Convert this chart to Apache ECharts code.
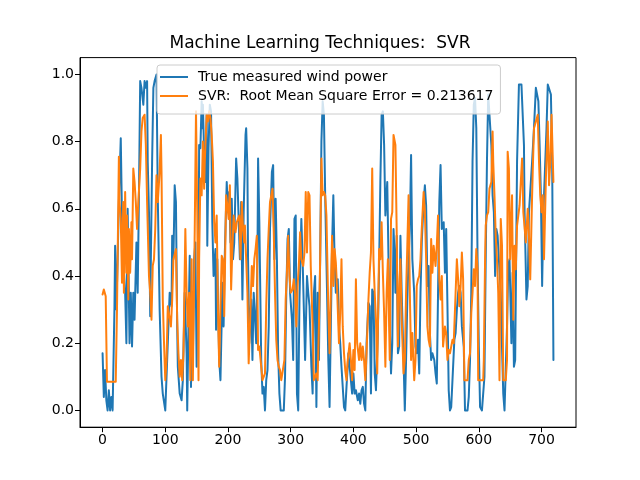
<!DOCTYPE html>
<html>
<head>
<meta charset="utf-8">
<script src="https://cdn.jsdelivr.net/npm/echarts@6/dist/echarts.min.js"></script>
<style>
html,body{margin:0;padding:0;background:#fff;}
#chart{width:640px;height:480px;}
</style>
</head>
<body>
<div id="chart"></div>
<script>
const titleText = 'Machine Learning Techniques:  SVR';
const trueName = 'True measured wind power';
const svrName = 'SVR:  Root Mean Square Error = 0.213617';

const trueIdx = [0,2,4,6,8,10,12,14,16,19,20,22,24,26,29,31,33,36,38,40,43,45,47,49,51,54,56,58,60,62,65,67,69,71,72,74,76,77,79,81,83,86,88,91,94,96,100,103,105,107,110,111,113,115,117,119,120,123,126,128,131,134,135,137,139,141,142,144,146,148,150,151,153,154,156,158,159,160,162,164,166,167,169,171,173,175,177,180,181,183,184,186,188,190,191,193,195,198,200,202,204,206,208,210,213,215,217,219,221,223,225,228,229,231,232,234,237,239,241,243,245,247,248,250,253,255,257,259,261,263,265,267,270,272,274,276,278,280,282,284,287,289,291,293,295,297,299,302,304,306,308,310,312,314,317,319,321,323,326,328,330,333,335,337,339,341,343,345,347,349,351,353,355,358,360,362,364,366,368,370,372,375,377,379,381,383,385,387,389,392,394,396,398,400,402,404,407,409,411,413,415,417,419,421,424,426,428,430,432,434,436,439,441,443,445,447,449,451,454,456,458,460,462,464,466,467,469,471,473,475,477,480,482,484,486,488,490,492,494,497,499,501,503,505,507,509,512,514,516,518,520,522,524,526,529,531,533,535,537,539,541,544,546,548,550,552,554,556,558,561,563,565,567,569,571,573,576,578,580,582,584,586,588,590,592,594,596,598,600,602,605,607,609,611,613,615,617,620,622,624,626,628,630,632,635,637,639,641,643,645,647,649,652,654,656,658,661,664,668,672,673,676,678,680,683,685,688,691,693,695,697,699,701,703,705,708,710,713,715,717,718,719];
const trueVal = [0.17,0.04,0.12,0.03,0.00,0.06,0.00,0.04,0.00,0.31,0.49,0.30,0.45,0.62,0.81,0.57,0.45,0.35,0.20,0.60,0.20,0.35,0.19,0.35,0.27,0.50,0.35,0.64,0.98,0.96,0.91,0.98,0.96,0.98,0.74,0.59,0.28,0.45,0.74,0.96,0.98,1.00,0.64,0.30,0.10,0.05,0.00,0.15,0.25,0.35,0.31,0.52,0.45,0.67,0.62,0.25,0.13,0.05,0.03,0.09,0.35,0.17,0.00,0.25,0.46,0.07,0.21,0.15,0.45,0.50,0.13,0.30,0.35,0.79,0.78,0.92,0.84,0.91,0.76,0.68,0.88,0.49,0.78,0.91,0.89,0.56,0.40,0.48,0.24,0.45,0.33,0.15,0.09,0.27,0.38,0.25,0.47,0.68,0.59,0.65,0.50,0.63,0.45,0.50,0.75,0.69,0.57,0.45,0.62,0.33,0.59,0.82,0.84,0.72,0.45,0.20,0.33,0.15,0.35,0.28,0.20,0.45,0.75,0.56,0.15,0.05,0.07,0.00,0.09,0.12,0.25,0.54,0.71,0.73,0.45,0.63,0.45,0.17,0.05,0.00,0.00,0.00,0.10,0.35,0.51,0.54,0.35,0.27,0.15,0.57,0.58,0.05,0.00,0.33,0.57,0.45,0.30,0.15,0.40,0.35,0.31,0.13,0.05,0.35,0.40,0.01,0.35,0.15,0.45,0.80,0.92,0.88,0.64,0.35,0.15,0.01,0.25,0.49,0.64,0.45,0.35,0.39,0.25,0.20,0.13,0.13,0.01,0.00,0.07,0.17,0.13,0.13,0.05,0.11,0.05,0.06,0.03,0.05,0.02,0.06,0.07,0.02,0.00,0.20,0.32,0.31,0.05,0.36,0.35,0.11,0.06,0.23,0.43,0.68,0.88,0.89,0.79,0.58,0.68,0.45,0.25,0.11,0.20,0.54,0.45,0.35,0.52,0.17,0.19,0.52,0.35,0.15,0.00,0.15,0.33,0.45,0.54,0.76,0.45,0.35,0.19,0.17,0.21,0.11,0.35,0.50,0.62,0.67,0.61,0.37,0.43,0.23,0.15,0.17,0.15,0.11,0.08,0.35,0.62,0.73,0.54,0.56,0.41,0.54,0.31,0.06,0.00,0.01,0.01,0.21,0.23,0.30,0.35,0.37,0.35,0.25,0.19,0.00,0.00,0.00,0.04,0.15,0.35,0.74,0.91,0.93,0.84,0.45,0.19,0.01,0.00,0.00,0.10,0.45,0.74,0.94,0.94,0.79,0.64,0.59,0.40,0.54,0.52,0.45,0.35,0.19,0.05,0.00,0.00,0.25,0.43,0.45,0.20,0.41,0.13,0.15,0.74,0.97,0.97,0.79,0.59,0.33,0.37,0.59,0.68,0.74,0.84,0.96,0.94,0.92,0.79,0.64,0.37,0.59,0.69,0.84,0.97,0.97,0.94,0.74,0.45,0.15];

const svrIdx = [0,2,5,7,14,21,23,26,27,29,31,33,34,36,38,39,41,42,44,46,47,49,51,53,55,57,60,62,64,67,69,71,74,76,78,80,82,84,86,88,91,93,94,96,98,100,102,104,107,109,111,113,117,119,121,123,125,127,129,132,134,136,138,140,142,144,147,149,151,153,154,156,158,160,162,163,166,168,170,172,174,176,178,180,182,184,186,188,190,192,194,197,199,201,203,205,207,209,212,214,216,218,220,222,224,226,227,229,231,233,235,238,240,242,244,246,248,250,252,255,257,259,261,263,265,267,271,273,275,277,279,281,283,285,288,290,292,294,296,298,300,303,305,307,309,311,313,315,317,320,322,324,326,328,330,332,335,337,339,341,343,345,347,349,351,353,355,357,360,362,364,366,368,370,372,374,377,379,381,383,385,387,389,391,394,396,398,400,402,404,406,409,411,413,415,417,419,421,424,426,428,430,432,434,436,438,441,443,445,447,449,451,453,455,458,460,462,464,467,469,471,473,475,477,480,482,484,486,488,490,492,494,497,499,501,503,505,507,509,512,514,516,518,520,522,524,526,528,531,533,535,537,539,541,543,546,548,550,552,554,556,558,560,563,565,567,569,571,573,575,577,580,582,584,586,588,590,592,594,596,598,599,603,607,608,610,611,613,615,617,620,622,623,625,627,629,631,633,635,637,639,641,643,645,646,648,650,653,655,657,659,661,665,669,671,675,678,680,682,685,686,688,691,694,696,698,700,702,704,707,710,712,714,716,719];
const svrVal = [0.345,0.36,0.34,0.085,0.085,0.085,0.30,0.755,0.62,0.57,0.38,0.62,0.35,0.65,0.41,0.58,0.33,0.54,0.41,0.56,0.45,0.72,0.68,0.62,0.54,0.62,0.72,0.83,0.87,0.88,0.79,0.62,0.40,0.35,0.27,0.43,0.45,0.54,0.70,0.62,0.71,0.82,0.71,0.33,0.20,0.09,0.15,0.31,0.31,0.25,0.33,0.45,0.48,0.27,0.17,0.10,0.15,0.09,0.17,0.54,0.35,0.25,0.35,0.09,0.45,0.09,0.54,0.89,0.59,0.09,0.45,0.69,0.64,0.80,0.66,0.74,0.88,0.86,0.89,0.87,0.82,0.74,0.56,0.50,0.58,0.30,0.13,0.31,0.46,0.45,0.28,0.64,0.61,0.57,0.67,0.36,0.48,0.58,0.53,0.56,0.57,0.58,0.45,0.62,0.54,0.50,0.55,0.45,0.35,0.14,0.25,0.43,0.37,0.45,0.48,0.52,0.18,0.19,0.15,0.09,0.09,0.11,0.31,0.45,0.54,0.62,0.66,0.53,0.35,0.21,0.15,0.13,0.12,0.09,0.09,0.15,0.33,0.41,0.52,0.40,0.35,0.36,0.39,0.35,0.25,0.37,0.43,0.53,0.45,0.43,0.47,0.65,0.47,0.65,0.64,0.43,0.25,0.09,0.09,0.11,0.09,0.25,0.45,0.75,0.64,0.65,0.64,0.58,0.30,0.17,0.35,0.52,0.37,0.48,0.44,0.36,0.20,0.29,0.45,0.25,0.17,0.12,0.09,0.15,0.20,0.15,0.09,0.18,0.12,0.39,0.20,0.15,0.20,0.15,0.19,0.15,0.09,0.17,0.33,0.41,0.47,0.72,0.45,0.35,0.27,0.11,0.48,0.45,0.56,0.41,0.29,0.13,0.35,0.45,0.15,0.57,0.59,0.82,0.79,0.54,0.19,0.35,0.45,0.27,0.11,0.15,0.35,0.49,0.64,0.35,0.15,0.23,0.09,0.15,0.37,0.39,0.40,0.45,0.54,0.65,0.59,0.45,0.25,0.21,0.19,0.51,0.41,0.49,0.43,0.49,0.58,0.39,0.33,0.40,0.19,0.25,0.23,0.15,0.18,0.17,0.19,0.21,0.20,0.35,0.45,0.39,0.31,0.37,0.47,0.39,0.09,0.09,0.09,0.15,0.17,0.29,0.35,0.42,0.37,0.48,0.42,0.09,0.09,0.09,0.15,0.45,0.55,0.58,0.59,0.66,0.68,0.83,0.74,0.64,0.52,0.45,0.35,0.09,0.57,0.49,0.09,0.09,0.09,0.15,0.77,0.72,0.45,0.64,0.27,0.49,0.42,0.55,0.61,0.75,0.59,0.50,0.60,0.52,0.39,0.64,0.71,0.84,0.84,0.88,0.74,0.64,0.59,0.64,0.45,0.69,0.86,0.67,0.74,0.88,0.68];

const xTicks = [0,100,200,300,400,500,600,700];
const yTicks = [0.0,0.2,0.4,0.6,0.8,1.0];
const xRange = [-36, 755];
const yRange = [-0.05, 1.05];

const pairs = (xs, ys) => xs.map((x, k) => [x, ys[k]]);
const font = 'DejaVu Sans';

const chart = echarts.init(document.getElementById('chart'), null, {renderer: 'canvas'});
chart.setOption({
  animation: false,
  backgroundColor: '#ffffff',
  title: {
    text: titleText,
    left: 'center',
    top: 35,
    padding: 0,
    textStyle: {fontFamily: font, fontSize: 17, fontWeight: 'normal', color: '#000'}
  },
  legend: {
    orient: 'vertical',
    left: 157,
    top: 65,
    padding: [5, 7, 11, 3],
    itemGap: 5,
    itemWidth: 28,
    itemHeight: 2,
    icon: 'rect',
    borderColor: '#cccccc',
    borderWidth: 1,
    borderRadius: 3,
    backgroundColor: 'rgba(255,255,255,0.8)',
    textStyle: {fontFamily: font, fontSize: 14, color: '#000', padding: [0, 0, 0, 5]},
    data: [trueName, svrName]
  },
  grid: {
    left: 80, right: 64, top: 57.6, bottom: 52.8,
    show: true, borderColor: '#000', borderWidth: 1, backgroundColor: 'transparent'
  },
  xAxis: {
    type: 'value', min: xRange[0], max: xRange[1],
    splitLine: {show: false},
    axisLine: {show: true, onZero: false, lineStyle: {color: '#000', width: 1}},
    axisTick: {show: true, inside: false, length: 5, lineStyle: {color: '#000', width: 1}, customValues: xTicks},
    axisLabel: {color: '#000', fontFamily: font, fontSize: 14, margin: 6, customValues: xTicks}
  },
  yAxis: {
    type: 'value', min: yRange[0], max: yRange[1],
    splitLine: {show: false},
    axisLine: {show: true, onZero: false, lineStyle: {color: '#000', width: 1}},
    axisTick: {show: true, inside: false, length: 5, lineStyle: {color: '#000', width: 1}, customValues: yTicks},
    axisLabel: {color: '#000', fontFamily: font, fontSize: 14, margin: 6, customValues: yTicks,
      formatter: v => Number(v).toFixed(1)}
  },
  series: [
    {
      name: trueName, type: 'line', data: pairs(trueIdx, trueVal),
      symbol: 'none', color: '#1f77b4',
      lineStyle: {width: 2, color: '#1f77b4', join: 'round', cap: 'round'}
    },
    {
      name: svrName, type: 'line', data: pairs(svrIdx, svrVal),
      symbol: 'none', color: '#ff7f0e',
      lineStyle: {width: 2, color: '#ff7f0e', join: 'round', cap: 'round'}
    }
  ]
});
</script>
</body>
</html>
